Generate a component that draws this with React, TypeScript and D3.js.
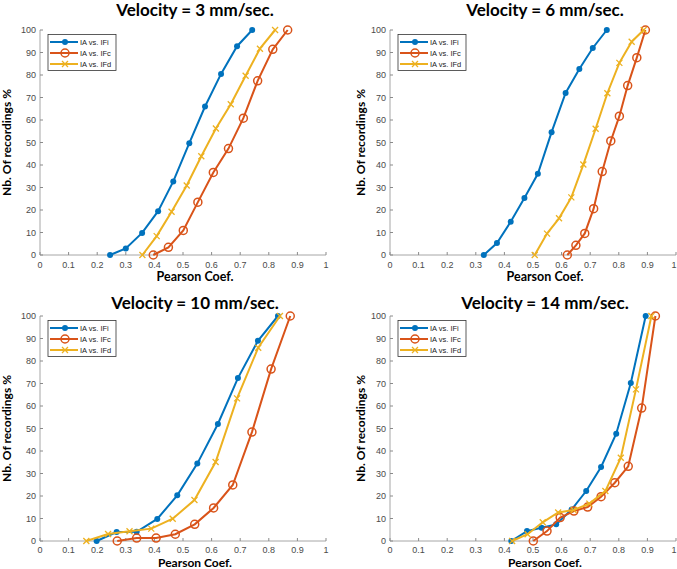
import React from "react";
import * as d3 from "d3";

const xTicks = [0, 0.1, 0.2, 0.3, 0.4, 0.5, 0.6, 0.7, 0.8, 0.9, 1];
const yTicks = [0, 10, 20, 30, 40, 50, 60, 70, 80, 90, 100];
const seriesNames = ["IA vs. IFi", "IA vs. IFc", "IA vs. IFd"];
const titles = [
  "Velocity = 3 mm/sec.",
  "Velocity = 6 mm/sec.",
  "Velocity = 10 mm/sec.",
  "Velocity = 14 mm/sec.",
];

// velocity 3
const v3IfiX = [0.245, 0.3, 0.357, 0.413, 0.466, 0.522, 0.577, 0.633, 0.689, 0.742];
const v3IfiY = [0, 2.9, 9.8, 19.5, 32.7, 49.7, 66, 80.5, 92.8, 100];
const v3IfcX = [0.396, 0.449, 0.501, 0.552, 0.606, 0.659, 0.711, 0.761, 0.814, 0.866];
const v3IfcY = [0, 3.4, 10.9, 23.5, 36.7, 47.3, 60.8, 77.4, 91.4, 100];
const v3IfdX = [0.358, 0.408, 0.46, 0.513, 0.564, 0.615, 0.667, 0.719, 0.769, 0.822];
const v3IfdY = [0, 8.4, 19.2, 30.9, 43.9, 56.2, 67, 79.7, 91.7, 100];

// velocity 6
const v6IfiX = [0.328, 0.374, 0.422, 0.47, 0.517, 0.565, 0.614, 0.662, 0.709, 0.758];
const v6IfiY = [0, 5.3, 14.8, 25.3, 36.1, 54.6, 72, 82.7, 92, 100];
const v6IfcX = [0.62, 0.65, 0.681, 0.712, 0.742, 0.772, 0.802, 0.831, 0.863, 0.893];
const v6IfcY = [0, 4.3, 9.6, 20.6, 37.1, 50.7, 61.7, 75.3, 87.7, 100];
const v6IfdX = [0.506, 0.549, 0.591, 0.634, 0.676, 0.719, 0.76, 0.802, 0.845, 0.887];
const v6IfdY = [0, 9.5, 16.3, 25.6, 40.2, 56.1, 71.9, 85.4, 94.8, 100];

// velocity 10
const v10IfiX = [0.198, 0.268, 0.338, 0.41, 0.48, 0.55, 0.622, 0.692, 0.762, 0.832];
const v10IfiY = [0, 4, 4.1, 9.8, 20.3, 34.4, 52, 72.4, 89, 100];
const v10IfcX = [0.27, 0.338, 0.406, 0.473, 0.541, 0.607, 0.674, 0.741, 0.808, 0.875];
const v10IfcY = [0, 1.3, 1.3, 3, 7.4, 14.7, 24.9, 48.4, 76.4, 100];
const v10IfdX = [0.162, 0.238, 0.313, 0.389, 0.464, 0.54, 0.614, 0.689, 0.763, 0.839];
const v10IfdY = [0, 3.1, 4.3, 5.5, 9.9, 18.2, 35.1, 63.4, 85.9, 100];

// velocity 14
const v14IfiX = [0.424, 0.479, 0.53, 0.581, 0.635, 0.686, 0.738, 0.791, 0.842, 0.894];
const v14IfiY = [0, 4.4, 5.9, 7.4, 14, 22.2, 32.9, 47.7, 70.2, 100];
const v14IfcX = [0.501, 0.549, 0.595, 0.643, 0.691, 0.738, 0.786, 0.833, 0.88, 0.928];
const v14IfcY = [0, 4.4, 10.4, 13.3, 15.1, 19.7, 25.9, 33.2, 59.1, 100];
const v14IfdX = [0.427, 0.481, 0.534, 0.588, 0.642, 0.697, 0.753, 0.807, 0.86, 0.914];
const v14IfdY = [0, 3, 8.3, 12.7, 13.8, 16.6, 22.2, 37, 67.4, 100];

const panelData = [
  [[v3IfiX, v3IfiY], [v3IfcX, v3IfcY], [v3IfdX, v3IfdY]],
  [[v6IfiX, v6IfiY], [v6IfcX, v6IfcY], [v6IfdX, v6IfdY]],
  [[v10IfiX, v10IfiY], [v10IfcX, v10IfcY], [v10IfdX, v10IfdY]],
  [[v14IfiX, v14IfiY], [v14IfcX, v14IfcY], [v14IfdX, v14IfdY]],
];

const colors = ["#0072BD", "#D95319", "#EDB120"];
const labelFont = "Lato, 'Open Sans', sans-serif";
const tickFont = "'Liberation Sans', Arial, sans-serif";
const W = 677;

// panel placement
const layout = [
  { left: 40, top: 30, titleY: 16, ylabX: 11, tickDy: 13, xlabDy: 26, xlabFs: 12.5 },
  { left: 390, top: 30, titleY: 16, ylabX: 365, tickDy: 13, xlabDy: 26, xlabFs: 12.5 },
  { left: 40, top: 316, titleY: 309, ylabX: 11, tickDy: 12, xlabDy: 25.5, xlabFs: 12 },
  { left: 390, top: 316, titleY: 309, ylabX: 365, tickDy: 12, xlabDy: 25.5, xlabFs: 12 },
];
const pw = 286;
const ph = 225;

function Marker({ type, x, y, color }) {
  if (type === 0) return <circle cx={x} cy={y} r={3} fill={color} />;
  if (type === 1)
    return <circle cx={x} cy={y} r={4} fill="none" stroke={color} strokeWidth={1.5} />;
  const s = 3;
  return (
    <path
      d={`M${x - s},${y - s}L${x + s},${y + s}M${x - s},${y + s}L${x + s},${y - s}`}
      stroke={color}
      strokeWidth={1.3}
    />
  );
}

function Panel({ idx }) {
  const { left, top, titleY, ylabX, tickDy, xlabDy, xlabFs } = layout[idx];
  const x = d3.scaleLinear().domain([0, 1]).range([left, left + pw]);
  const y = d3.scaleLinear().domain([0, 100]).range([top + ph, top]);
  const line = d3
    .line<number>()
    .x((d) => d[0])
    .y((d) => d[1]);
  const cx = left + 155;
  const lx = left + 8;
  const ly = top + 4.5;

  return (
    <g>
      <text
        x={cx}
        y={titleY}
        textAnchor="middle"
        fontFamily={labelFont}
        fontWeight="bold"
        fontSize={17}
        fill="#000"
      >
        {titles[idx]}
      </text>
      {/* axes */}
      <line x1={left} x2={left + pw} y1={top + ph} y2={top + ph} stroke="#a6a6a6" strokeWidth={1} />
      <line x1={left} x2={left} y1={top} y2={top + ph} stroke="#a6a6a6" strokeWidth={1} />
      {xTicks.map((t) => (
        <g key={"x" + t}>
          <line x1={x(t)} x2={x(t)} y1={top + ph} y2={top + ph - 3} stroke="#8a8a8a" />
          <text
            x={Math.min(x(t), W - 3)}
            y={top + ph + tickDy}
            textAnchor="middle"
            fontFamily={tickFont}
            fontSize={9}
            fill="#4a4a4a"
          >
            {t}
          </text>
        </g>
      ))}
      {yTicks.map((t) => (
        <g key={"y" + t}>
          <line x1={left} x2={left + 3} y1={y(t)} y2={y(t)} stroke="#8a8a8a" />
          <text
            x={left - 4}
            y={y(t) + 3.2}
            textAnchor="end"
            fontFamily={tickFont}
            fontSize={9}
            fill="#4a4a4a"
          >
            {t}
          </text>
        </g>
      ))}
      <text
        x={cx}
        y={top + ph + xlabDy}
        textAnchor="middle"
        fontFamily={labelFont}
        fontWeight="bold"
        fontSize={xlabFs}
        fill="#000"
      >
        Pearson Coef.
      </text>
      <text
        transform={`translate(${ylabX},${top + ph / 2}) rotate(-90)`}
        textAnchor="middle"
        fontFamily={labelFont}
        fontWeight="bold"
        fontSize={12}
        fill="#000"
      >
        Nb. Of recordings %
      </text>
      {/* series */}
      {panelData[idx].map(([xs, ys], si) => {
        const pts = xs.map((v, i) => [x(v), y(ys[i])]);
        return (
          <g key={si}>
            <path d={line(pts) || ""} fill="none" stroke={colors[si]} strokeWidth={2} />
            {pts.map((p, i) => (
              <Marker key={i} type={si} x={p[0]} y={p[1]} color={colors[si]} />
            ))}
          </g>
        );
      })}
      {/* legend */}
      <rect x={lx} y={ly} width={68} height={36} fill="#fff" stroke="#333" strokeWidth={0.8} />
      {seriesNames.map((n, i) => {
        const ry = ly + 7.5 + i * 11;
        return (
          <g key={n}>
            <line x1={lx + 2} x2={lx + 30} y1={ry} y2={ry} stroke={colors[i]} strokeWidth={2} />
            <Marker type={i} x={lx + 17} y={ry} color={colors[i]} />
            <text
              x={lx + 32}
              y={ry + 2.7}
              fontFamily={tickFont}
              fontSize={7.5}
              fill="#222"
            >
              {n}
            </text>
          </g>
        );
      })}
    </g>
  );
}

export default function App() {
  return (
    <svg
      width={W}
      height={569}
      style={{ position: "absolute", left: 0, top: 0, background: "#fff" }}
    >
      {[0, 1, 2, 3].map((i) => (
        <Panel key={i} idx={i} />
      ))}
    </svg>
  );
}
